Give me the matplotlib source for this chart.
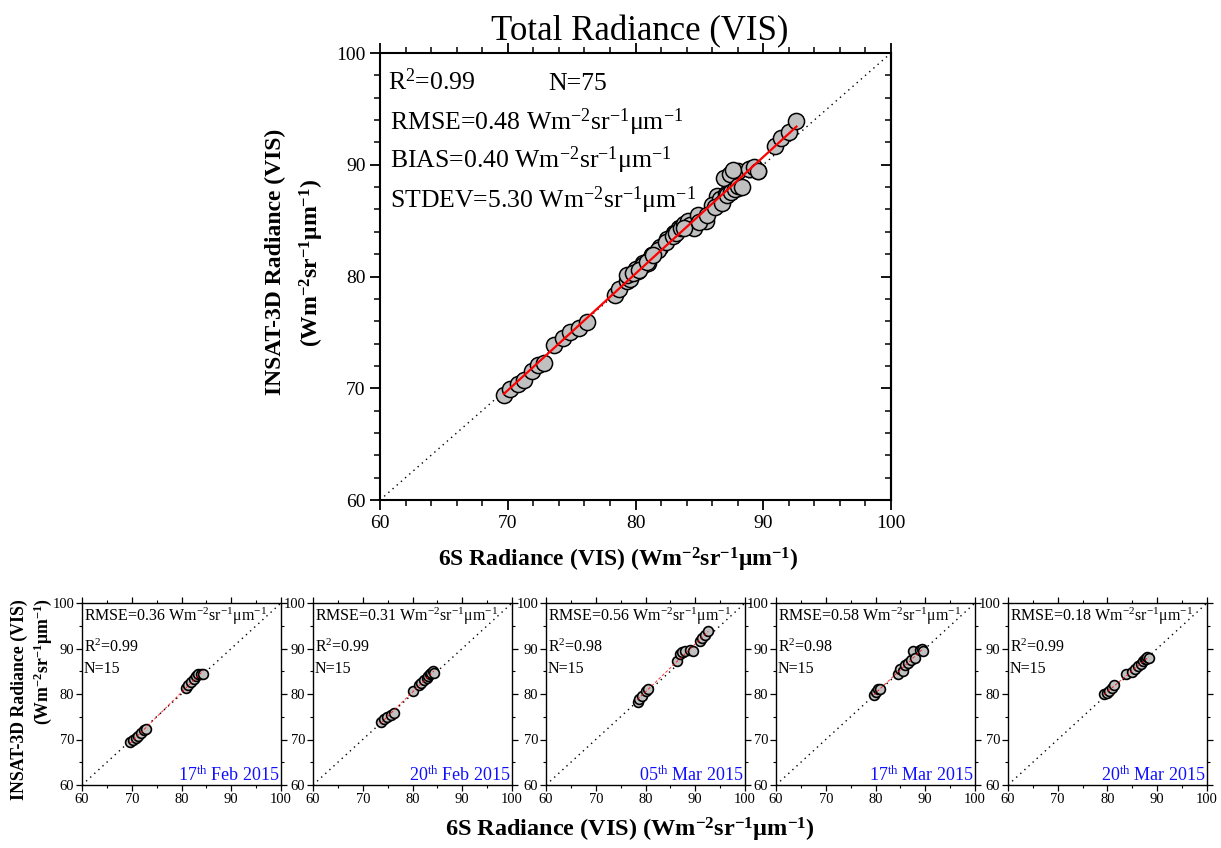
import numpy as np
import matplotlib
matplotlib.use("Agg")
import matplotlib.pyplot as plt
from matplotlib.ticker import MultipleLocator

plt.rcParams['font.family'] = ['Liberation Serif', 'DejaVu Serif']
plt.rcParams['mathtext.fontset'] = 'custom'
plt.rcParams['mathtext.rm'] = 'Liberation Serif'
plt.rcParams['mathtext.it'] = 'Liberation Serif:italic'
plt.rcParams['mathtext.bf'] = 'Liberation Serif:bold'

# ---------------- data ----------------
dates = ["17$^{\\rm th}$ Feb 2015", "20$^{\\rm th}$ Feb 2015", "05$^{\\rm th}$ Mar 2015",
         "17$^{\\rm th}$ Mar 2015", "20$^{\\rm th}$ Mar 2015"]
rmse_small = [0.36, 0.31, 0.56, 0.58, 0.18]
r2_small = [0.99, 0.99, 0.98, 0.98, 0.99]
n_small = [15, 15, 15, 15, 15]

x_feb17 = [69.7, 70.2, 70.8, 71.3, 71.9, 72.4, 72.8, 81.0, 81.3, 81.9, 82.5, 83.0, 83.4, 83.9, 84.4]
y_feb17 = [69.4, 69.9, 70.4, 70.7, 71.5, 72.1, 72.3, 81.4, 81.9, 82.6, 83.4, 83.9, 84.3, 84.5, 84.4]

x_feb20 = [73.6, 74.3, 74.9, 75.6, 76.2, 80.2, 81.3, 81.8, 82.4, 82.9, 83.2, 83.6, 83.8, 84.1, 84.3]
y_feb20 = [73.9, 74.5, 75.0, 75.4, 75.9, 80.6, 81.9, 82.4, 83.1, 83.6, 83.9, 84.3, 84.7, 85.0, 84.6]

x_mar05 = [78.4, 78.7, 79.3, 80.0, 80.6, 86.4, 86.9, 87.4, 88.0, 89.0, 89.6, 90.9, 91.4, 92.0, 92.6]
y_mar05 = [78.3, 78.9, 79.6, 80.7, 81.2, 87.2, 88.8, 89.2, 89.4, 89.6, 89.4, 91.7, 92.4, 92.9, 93.9]

x_mar17 = [79.6, 80.2, 80.6, 81.0, 84.6, 84.9, 85.5, 86.0, 86.6, 87.1, 87.6, 88.0, 88.9, 89.3, 89.6]
y_mar17 = [79.8, 80.5, 81.0, 81.2, 84.3, 85.5, 85.0, 86.4, 86.9, 87.4, 89.5, 87.9, 89.6, 89.8, 89.4]

x_mar20 = [79.3, 79.8, 80.3, 80.9, 81.4, 83.8, 85.0, 85.6, 86.2, 86.8, 87.2, 87.5, 87.8, 88.0, 88.3]
y_mar20 = [80.1, 80.3, 80.6, 81.3, 81.9, 84.3, 84.9, 85.5, 86.2, 86.6, 87.3, 87.6, 87.8, 88.1, 88.0]

xs_small = [x_feb17, x_feb20, x_mar05, x_mar17, x_mar20]
ys_small = [y_feb17, y_feb20, y_mar05, y_mar17, y_mar20]

r2_main = 0.99
n_main = 75
rmse_main = 0.48
bias_main = 0.40
stdev_main = 5.30

ticks = [60, 70, 80, 90, 100]
unit = "Wm$^{-2}$sr$^{-1}$\u03bcm$^{-1}$"
unit_b = "Wm$^{\\mathbf{-2}}$sr$^{\\mathbf{-1}}$\u03bcm$^{\\mathbf{-1}}$"

W, H = 1221, 848
fig = plt.figure(figsize=(W / 100, H / 100), dpi=100)


def fx(px):
    return px / W


def fy(py):
    return 1 - py / H


# ---------------- main panel ----------------
L, R, T, B = 380, 891, 53, 500
ax = fig.add_axes([fx(L), fy(B), (R - L) / W, (B - T) / H])
ax.set_xlim(60, 100)
ax.set_ylim(60, 100)
ax.plot([60, 100], [60, 100], color='black', ls=(0, (1, 3)), lw=1.0, zorder=1)
xm = np.concatenate(xs_small)
ym = np.concatenate(ys_small)
ax.scatter(xm, ym, s=135, facecolor='#c0c0c0', edgecolor='black', linewidth=1.1, zorder=3)
k, b0 = np.polyfit(xm, ym, 1)
xl = np.array([xm.min(), xm.max()])
ax.plot(xl, k * xl + b0, color='red', lw=1.6, zorder=4)
ax.set_xticks(ticks)
ax.set_yticks(ticks)
ax.xaxis.set_minor_locator(MultipleLocator(2))
ax.yaxis.set_minor_locator(MultipleLocator(2))
ax.tick_params(axis='both', which='major', labelsize=14, length=7, width=1.3, direction='out')
ax.tick_params(axis='both', which='minor', length=4, width=1.1, direction='out')
ax.tick_params(axis='x', which='both', top=True)
ax.tick_params(axis='y', which='both', right=False)
sec = ax.secondary_yaxis('right')
sec.set_yticks(ticks)
sec.yaxis.set_minor_locator(MultipleLocator(2))
sec.tick_params(which='major', direction='in', length=7, width=1.3, labelright=False)
sec.tick_params(which='minor', direction='in', length=4, width=1.1)
sec.spines['right'].set_linewidth(1.5)
for s in ax.spines.values():
    s.set_linewidth(1.5)

tkw = dict(transform=fig.transFigure, fontsize=18.5, va='baseline', ha='left')
fig.text(fx(388), fy(90), f"R$^2$={r2_main:.2f}", **tkw)
fig.text(fx(548), fy(90), f"N={n_main}", **tkw)
fig.text(fx(390), fy(130), f"RMSE={rmse_main:.2f} " + unit, **tkw)
fig.text(fx(390), fy(168), f"BIAS={bias_main:.2f} " + unit, **tkw)
fig.text(fx(390), fy(208), f"STDEV={stdev_main:.2f} " + unit, **tkw)

fig.text(fx(640), fy(40), "Total Radiance (VIS)", fontsize=25, ha='center', va='baseline')
fig.text(fx(618), fy(567), "6S Radiance (VIS) (" + unit_b + ")", fontsize=17,
         fontweight='bold', ha='center', va='baseline')
fig.text(fx(275), fy(262), "INSAT-3D Radiance (VIS)", fontsize=17, fontweight='bold',
         rotation=90, ha='center', va='center')
fig.text(fx(312), fy(263), "(" + unit_b + ")", fontsize=17, fontweight='bold',
         rotation=90, ha='center', va='center')

# ---------------- small panels ----------------
lefts = [82, 313, 546, 776, 1008]
pw = 199
st, sb = 603, 785
for i in range(5):
    a = fig.add_axes([fx(lefts[i]), fy(sb), pw / W, (sb - st) / H])
    a.set_xlim(60, 100)
    a.set_ylim(60, 100)
    a.plot([60, 100], [60, 100], color='black', ls=(0, (1, 3)), lw=1.0, zorder=1)
    xi = np.array(xs_small[i])
    yi = np.array(ys_small[i])
    a.scatter(xi, yi, s=50, facecolor='#c0c0c0', edgecolor='black', linewidth=1.2, zorder=3)
    ki, bi = np.polyfit(xi, yi, 1)
    xli = np.array([xi.min(), xi.max()])
    a.plot(xli, ki * xli + bi, color='red', lw=0.7, ls=(0, (3, 2)), alpha=0.8, zorder=4)
    a.set_xticks(ticks)
    a.set_yticks(ticks)
    a.xaxis.set_minor_locator(MultipleLocator(5))
    a.yaxis.set_minor_locator(MultipleLocator(5))
    a.tick_params(axis='both', which='major', labelsize=10.5, length=4, width=0.9,
                  direction='out', pad=1.5)
    a.tick_params(axis='both', which='minor', length=2, width=0.8, direction='out')
    a.tick_params(axis='both', which='both', top=True, right=True)
    for s in a.spines.values():
        s.set_linewidth(1.0)
    skw = dict(transform=a.transAxes, fontsize=11.5, ha='left', va='baseline')
    a.text(0.01, 1 - (621 - st) / (sb - st), f"RMSE={rmse_small[i]:.2f} " + unit, **skw)
    a.text(0.01, 1 - (652 - st) / (sb - st), f"R$^2$={r2_small[i]:.2f}", **skw)
    a.text(0.01, 1 - (673 - st) / (sb - st), f"N={n_small[i]}", **skw)
    a.text(0.995, 1 - (781 - st) / (sb - st), dates[i], transform=a.transAxes,
           fontsize=13, color='#1010ff', ha='right', va='baseline')

fig.text(fx(630), fy(836), "6S Radiance (VIS) (" + unit_b + ")", fontsize=17.5,
         fontweight='bold', ha='center', va='baseline')
fig.text(fx(19), fy(700), "INSAT-3D Radiance (VIS)", fontsize=12.8, fontweight='bold',
         rotation=90, ha='center', va='center')
fig.text(fx(43), fy(662), "(" + unit_b + ")", fontsize=12.8, fontweight='bold',
         rotation=90, ha='center', va='center')

fig.savefig("out.png", dpi=100)
